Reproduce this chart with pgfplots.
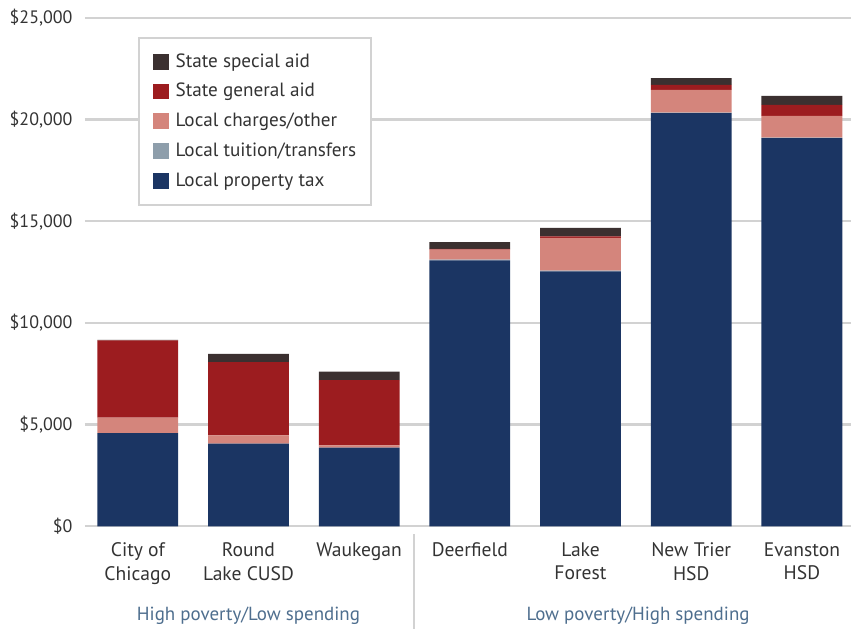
\documentclass[border=0pt]{standalone}
\usepackage{pgfplots}
\pgfplotsset{compat=1.18}
\usepackage{fontspec}
\setmainfont{PT Sans}

\definecolor{special}{HTML}{3B3030}
\definecolor{general}{HTML}{9C1C1F}
\definecolor{charges}{HTML}{D4857C}
\definecolor{tuition}{HTML}{8E9EAB}
\definecolor{property}{HTML}{1B3563}
\definecolor{gridgray}{HTML}{D2D2D2}
\definecolor{txt}{HTML}{333333}
\definecolor{groupblue}{HTML}{4E6E8E}

\begin{document}
\begin{tikzpicture}
\begin{axis}[
    scale only axis,
    width=383.5pt, height=254.5pt,
    ybar stacked, bar width=0.73,
    xmin=-0.478, xmax=6.442,
    ymin=0, ymax=25000,
    clip=false,
    axis line style={draw=none},
    tick style={draw=none},
    ymajorgrids, grid style={line width=1.2pt, gridgray},
    xtick={0,1,2,3,4,5,6},
    xticklabels={{City of\\Chicago},{Round\\Lake CUSD},Waukegan,Deerfield,{Lake\\Forest},{New Trier\\HSD},{Evanston\\HSD}},
    x tick label style={align=center, font=\fontsize{9.8}{11.8}\selectfont, text=txt, inner sep=0pt, yshift=-8pt},
    scaled y ticks=false,
    ytick={0,5000,10000,15000,20000,25000},
    yticklabels={{\$0},{\$5,000},{\$10,000},{\$15,000},{\$20,000},{\$25,000}},
    y tick label style={font=\fontsize{9}{11}\selectfont, text=txt, inner sep=0pt, xshift=-6pt},
    reverse legend,
    legend cell align=left,
    legend image code/.code={\path (0pt,0pt) (11pt,0pt); \fill[#1] (1.5pt,-4pt) rectangle (9.5pt,4pt);},
    legend style={at={(rel axis cs:0.069,0.963)}, anchor=north west,
        draw=gridgray, line width=1pt, fill=white, text=txt,
        font=\fontsize{9.6}{11}\selectfont, row sep=2.6pt,
        inner xsep=5.5pt, inner ysep=5.8pt},
]
% Reihenfolge von unten nach oben
\addplot[fill=property, draw=none] coordinates {(0,4580) (1,4060) (2,3870) (3,13080) (4,12540) (5,20320) (6,19090)};
\addlegendentry{Local property tax}
\addplot[fill=tuition, draw=none] coordinates {(0,0) (1,0) (2,0) (3,30) (4,30) (5,30) (6,30)};
\addlegendentry{Local tuition/transfers}
\addplot[fill=charges, draw=none] coordinates {(0,760) (1,410) (2,110) (3,500) (4,1610) (5,1110) (6,1070)};
\addlegendentry{Local charges/other}
\addplot[fill=general, draw=none] coordinates {(0,3800) (1,3600) (2,3210) (3,30) (4,80) (5,250) (6,540)};
\addlegendentry{State general aid}
\addplot[fill=special, draw=none] coordinates {(0,30) (1,410) (2,410) (3,340) (4,410) (5,330) (6,440)};
\addlegendentry{State special aid}

% Gruppen und Trennlinie
\draw[gridgray, line width=1pt] ([yshift=-4pt]axis cs:2.5,0) -- ([yshift=-51.5pt]axis cs:2.5,0);
\node[font=\fontsize{9.5}{11}\selectfont, text=groupblue] at ([yshift=-44.7pt]axis cs:1,0) {High poverty/Low spending};
\node[font=\fontsize{9.5}{11}\selectfont, text=groupblue] at ([yshift=-44.7pt]axis cs:4.52,0) {Low poverty/High spending};

% Rand
\path ([xshift=-42.5pt,yshift=9pt]rel axis cs:0,1) -- ([yshift=-51.5pt]rel axis cs:1,0);
\end{axis}
\end{tikzpicture}
\end{document}
